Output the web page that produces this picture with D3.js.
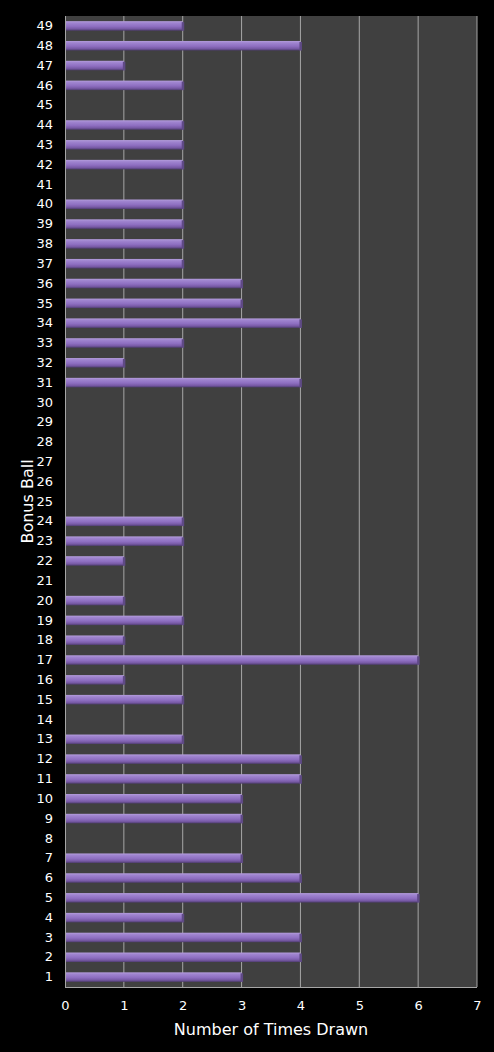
<!DOCTYPE html>
<head>
  <meta charset="utf-8">
  <script src="https://cdnjs.cloudflare.com/ajax/libs/d3/7.8.5/d3.min.js"></script>
  <style>
    body { margin:0; background:#000; }
    svg { display:block; }
  </style>
</head>
<body>
  <script>
    // bonus ball numbers and how often each was drawn
    var balls = d3.range(1, 50);
    var timesDrawn = [3, 4, 4, 2, 6, 4, 3, 0, 3, 3,
                      4, 4, 2, 0, 2, 1, 6, 1, 2, 1,
                      0, 1, 2, 2, 0, 0, 0, 0, 0, 0,
                      4, 1, 2, 4, 3, 3, 2, 2, 2, 2,
                      0, 2, 2, 2, 0, 2, 1, 4, 2];
    var xTicks = [0, 1, 2, 3, 4, 5, 6, 7];

    var data = balls.map(function(b, i){ return {ball: b, n: timesDrawn[i]}; });

    var W = 494, H = 1052;
    var margin = {top: 16, right: 17, bottom: 65, left: 65};
    var width = W - margin.left - margin.right;
    var height = H - margin.top - margin.bottom;

    var svg = d3.select("body").append("svg")
      .attr("width", W)
      .attr("height", H);

    var defs = svg.append("defs");
    var grad = defs.append("linearGradient")
      .attr("id", "barGrad")
      .attr("x1", 0).attr("y1", 0).attr("x2", 0).attr("y2", 1);
    [["0%", "#b39cdb"], ["20%", "#9f84cf"], ["55%", "#8e6fc1"], ["80%", "#785aa6"], ["100%", "#4f3d70"]]
      .forEach(function(s){ grad.append("stop").attr("offset", s[0]).attr("stop-color", s[1]); });

    var g = svg.append("g")
      .attr("transform", "translate(" + margin.left + "," + margin.top + ")");

    var x = d3.scaleLinear().domain([0, 7]).range([0, width]);
    var y = d3.scaleBand()
      .domain(balls.slice().reverse())
      .range([0, height])
      .paddingInner(0.52)
      .paddingOuter(0.26);

    g.append("rect")
      .attr("width", width)
      .attr("height", height)
      .attr("fill", "#404040");

    // vertical gridlines
    g.selectAll("line.grid").data(xTicks.slice(1)).enter().append("line")
      .attr("class", "grid")
      .attr("x1", function(d){ return x(d); })
      .attr("x2", function(d){ return x(d); })
      .attr("y1", 0).attr("y2", height)
      .attr("stroke", "#a6a6a6")
      .attr("stroke-width", 1);

    // bars
    var bars = g.selectAll("g.bar").data(data.filter(function(d){ return d.n > 0; }))
      .enter().append("g").attr("class", "bar");
    bars.append("rect")
      .attr("x", 1)
      .attr("y", function(d){ return y(d.ball); })
      .attr("width", function(d){ return x(d.n) - 1; })
      .attr("height", y.bandwidth())
      .attr("fill", "url(#barGrad)");
    bars.append("rect")
      .attr("x", function(d){ return x(d.n) - 1; })
      .attr("y", function(d){ return y(d.ball) + 1; })
      .attr("width", 2.5)
      .attr("height", y.bandwidth() - 1)
      .attr("fill", "#5f4a86");

    // axis lines
    g.append("line").attr("x1", 0.5).attr("x2", 0.5).attr("y1", 0).attr("y2", height)
      .attr("stroke", "#a6a6a6");
    g.append("line").attr("x1", 0).attr("x2", width).attr("y1", height + 0.5).attr("y2", height + 0.5)
      .attr("stroke", "#a6a6a6");

    var yAxis = g.append("g")
      .call(d3.axisLeft(y).tickSize(0).tickPadding(12));
    yAxis.select(".domain").remove();
    yAxis.selectAll("text")
      .attr("fill", "#fff")
      .style("font-family", "DejaVu Sans, Verdana, sans-serif")
      .style("font-size", "13px");

    var xAxis = g.append("g")
      .attr("transform", "translate(0," + height + ")")
      .call(d3.axisBottom(x).tickValues(xTicks).tickFormat(d3.format("d")).tickSize(0).tickPadding(14));
    xAxis.select(".domain").remove();
    xAxis.selectAll("text")
      .attr("fill", "#fff")
      .style("font-family", "DejaVu Sans, Verdana, sans-serif")
      .style("font-size", "13px");

    svg.append("text")
      .attr("x", margin.left + width / 2)
      .attr("y", 1035)
      .attr("text-anchor", "middle")
      .attr("fill", "#fff")
      .style("font-family", "DejaVu Sans, Verdana, sans-serif")
      .style("font-size", "16px")
      .text("Number of Times Drawn");

    svg.append("text")
      .attr("transform", "translate(33," + (margin.top + height / 2) + ") rotate(-90)")
      .attr("text-anchor", "middle")
      .attr("fill", "#fff")
      .style("font-family", "DejaVu Sans, Verdana, sans-serif")
      .style("font-size", "16px")
      .text("Bonus Ball");
  </script>
</body>
